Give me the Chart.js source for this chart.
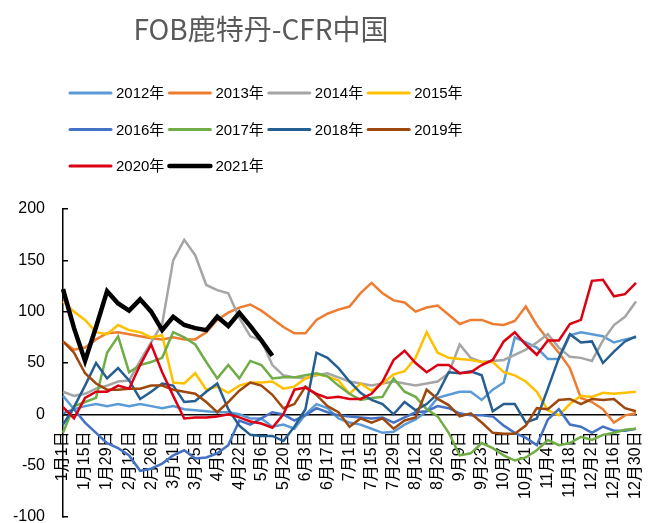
<!DOCTYPE html>
<html>
<head>
<meta charset="utf-8">
<script src="https://cdn.jsdelivr.net/npm/chart.js@4.4.1/dist/chart.umd.min.js"></script>
<style>
  body { margin: 0; background: #fff; }
  #wrap { width: 651px; height: 523px; }
</style>
</head>
<body>
<div id="wrap"><canvas id="chart" width="651" height="523"></canvas></div>
<script>
// fechas (cada 7 dias), se muestra una de cada dos
const dates = ['1月1日','1月8日','1月15日','1月22日','1月29日','2月5日','2月12日','2月19日','2月26日',
  '3月4日','3月11日','3月18日','3月25日','4月1日','4月8日','4月15日','4月22日','4月29日',
  '5月6日','5月13日','5月20日','5月27日','6月3日','6月10日','6月17日','6月24日',
  '7月1日','7月8日','7月15日','7月22日','7月29日','8月5日','8月12日','8月19日','8月26日',
  '9月2日','9月9日','9月16日','9月23日','9月30日','10月7日','10月14日','10月21日','10月28日',
  '11月4日','11月11日','11月18日','11月25日','12月2日','12月9日','12月16日','12月23日','12月30日'];

const years = ['2012年','2013年','2014年','2015年','2016年','2017年','2018年','2019年','2020年','2021年'];
const colors = ['#5B9BD5','#ED7D31','#A5A5A5','#FFC000','#4472C4','#70AD47','#255E91','#9E480E','#DC0014','#000000'];

const y2012 = [18,5,8,10,8,10,8,10,8,6, 8,5,4,3,2,2,0,-4,-4,-12, -10,-14,0,10,6,-4,-8,-10,-14,-18,
  -17,-10,-5,3,16,19,22,22,14,24, 31,75,70,65,54,54,77,80,78,76, 70,73,75];
const y2013 = [71,63,65,73,79,80,78,76,74,73, 75,73,73,80,92,99,104,107,101,93, 85,79,79,92,98,102,105,118,128,118,
  111,109,100,104,106,97,88,92,92,88, 87,91,105,87,73,60,45,16,12,5, -8,-1,1];
const y2014 = [22,18,20,25,28,32,33,52,70,88, 150,170,155,126,121,118,94,76,72,48, 38,36,35,38,40,36,32,30,28,30,
  32,30,28,30,32,40,68,55,51,52, 53,58,63,70,78,65,56,55,52,72, 87,95,110];
const y2015 = [110,100,92,80,78,87,82,80,75,77, 31,30,40,24,27,21,28,31,31,32, 25,27,35,39,37,33,20,30,23,30,
  39,42,55,80,60,55,54,53,51,51, 41,38,32,22,4,-1,10,18,17,21, 20,21,22];
const y2016 = [1,5,-8,-18,-28,-33,-40,-55,-53,-48, -40,-35,-43,-42,-38,-30,-6,-10,-4,2, 0,-6,-1,6,2,-1,-2,-3,-4,-3,
  -8,-3,2,3,8,6,1,-1,-1,-2, -11,-18,-23,-30,-5,5,-10,-12,-18,-12, -16,-16,-14];
const y2017 = [-18,8,12,16,60,76,41,48,51,55, 80,75,68,51,35,48,35,52,48,35, 36,36,38,40,37,28,20,14,16,17,
  35,22,17,5,-2,-18,-40,-38,-28,-33, -40,-45,-42,-35,-25,-30,-28,-22,-25,-20, -18,-15,-14];
const y2018 = [-10,7,28,50,35,45,33,15,22,30, 28,12,13,22,30,5,-11,-20,-21,-21, -26,-12,5,60,55,45,32,21,14,10,
  0,12,4,10,20,41,40,42,38,3, 10,10,-8,-4,25,55,78,70,71,50, 61,71,76];
const y2019 = [71,60,40,30,24,24,25,25,28,28, 24,22,20,12,2,12,23,31,28,19, 6,10,27,19,8,2,-12,-4,-8,-4,
  -14,-6,-3,24,15,9,-2,1,-8,-18, -19,-19,-11,6,5,14,15,10,15,14, 15,6,3];
const y2020 = [7,-4,16,22,22,28,25,48,68,41, 18,-4,-3,-3,-2,0,-3,-7,-9,-13, 0,24,26,20,16,17,15,15,20,32,
  53,62,50,41,48,48,40,41,48,53, 71,80,68,58,72,72,88,92,130,131, 115,117,128];
const y2021 = [122,84,52,85,120,108,101,112,100,82, 95,87,84,82,95,86,99,86,72,57];

const series = [y2012, y2013, y2014, y2015, y2016, y2017, y2018, y2019, y2020, y2021];

const titleText = 'FOB鹿特丹-CFR中国';
const fontLatin = '"Liberation Sans", "Noto Sans CJK SC", sans-serif';

const datasets = series.map((data, i) => ({
    label: years[i],
    data: data,
    borderColor: colors[i],
    backgroundColor: colors[i],
    borderWidth: i === 9 ? 4.5 : 2.5,
    pointRadius: 0,
    tension: 0,
    fill: false,
    order: 10 - i
}));

// titulo y leyenda en rejilla de 4 columnas como en la imagen
const gridLegend = {
    id: 'gridLegend',
    afterDraw(chart) {
        const ctx = chart.ctx;
        ctx.save();
        ctx.fillStyle = '#595959';
        ctx.font = '28px "Noto Sans CJK SC", sans-serif';
        ctx.textAlign = 'center';
        ctx.textBaseline = 'middle';
        ctx.fillText(titleText, 261, 29);

        ctx.font = '15px ' + fontLatin;
        ctx.textAlign = 'left';
        chart.data.datasets.forEach((ds, i) => {
            const x = 70 + (i % 4) * 99.4;
            const y = 93 + Math.floor(i / 4) * 36.5;
            ctx.strokeStyle = ds.borderColor;
            ctx.lineWidth = i === 9 ? 4.5 : 3;
            ctx.lineCap = 'round';
            ctx.beginPath();
            ctx.moveTo(x, y);
            ctx.lineTo(x + 41, y);
            ctx.stroke();
            ctx.fillStyle = '#000';
            ctx.fillText(ds.label, x + 46, y + 1);
        });
        ctx.restore();
    }
};

const ctx = document.getElementById('chart').getContext('2d');

new Chart(ctx, {
    type: 'line',
    data: {
        labels: dates,
        datasets: datasets
    },
    plugins: [gridLegend],
    options: {
        responsive: false,
        animation: false,
        layout: {
            padding: { left: 0, right: 15, top: 209, bottom: 6 }
        },
        scales: {
            x: {
                type: 'category',
                position: { y: 0 },
                offset: false,
                afterFit: function (scale) { scale.paddingLeft = 0; scale.paddingRight = 0; },
                grid: { display: false, drawTicks: false },
                border: { color: '#000', width: 1.5 },
                ticks: {
                    autoSkip: false,
                    minRotation: 90,
                    maxRotation: 90,
                    padding: 17,
                    color: '#000',
                    font: { size: 16, family: fontLatin },
                    callback: function (value, index) {
                        return index % 2 === 0 ? this.getLabelForValue(value) : '';
                    }
                }
            },
            y: {
                min: -100,
                max: 200,
                afterFit: function (scale) {
                    scale.width = 63;
                    scale.paddingTop = 0;
                    scale.paddingBottom = 0;
                },
                grid: { drawOnChartArea: false, tickLength: -5, color: '#000', lineWidth: 1.5 },
                border: { color: '#000', width: 1.5 },
                ticks: {
                    stepSize: 50,
                    padding: 23,
                    color: '#000',
                    font: { size: 16, family: fontLatin }
                }
            }
        },
        plugins: {
            legend: { display: false },
            tooltip: { enabled: false },
            title: { display: false }
        }
    }
});
</script>
</body>
</html>
